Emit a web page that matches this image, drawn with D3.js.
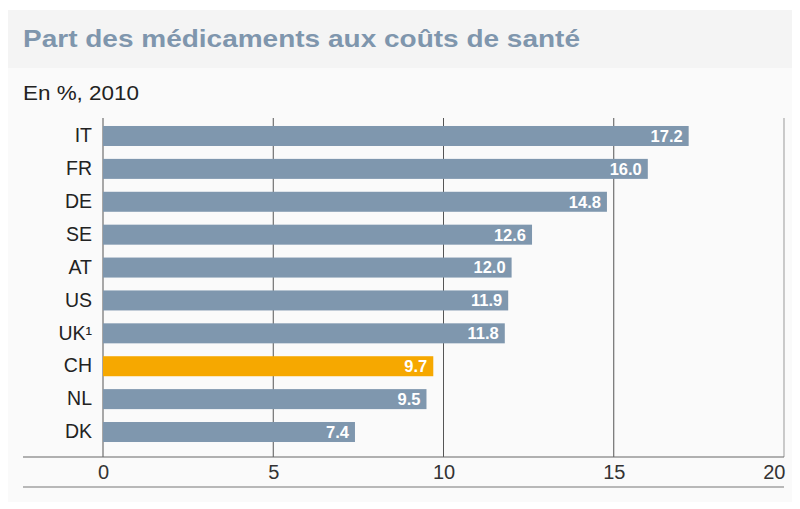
<!DOCTYPE html>
<html>
<head>
<meta charset="utf-8">
<script src="https://cdn.jsdelivr.net/npm/d3@7"></script>
<style>
	body { margin: 0; background: #fff; }
	svg { display: block; font-family: 'Liberation Sans', Arial, sans-serif; }
</style>
</head>
<body>
<svg id="svg" width="800" height="509"></svg>
<script>
const countries = ['IT', 'FR', 'DE', 'SE', 'AT', 'US', 'UK¹', 'CH', 'NL', 'DK'];
const shares = [17.2, 16.0, 14.8, 12.6, 12.0, 11.9, 11.8, 9.7, 9.5, 7.4];
const xTicks = [0, 5, 10, 15, 20];
const highlight = 'CH';

const data = countries.map((c, i) => ({ name: c, value: shares[i] }));

const margin = { top: 118, left: 103, right: 16, baseline: 457 };
const svg = d3.select('#svg');

// background card + title band
svg.append('rect').attr('x', 8).attr('y', 10).attr('width', 784).attr('height', 492).attr('fill', '#fafafa');
svg.append('rect').attr('x', 8).attr('y', 10).attr('width', 784).attr('height', 58).attr('fill', '#f4f4f4');

svg.append('text')
	.attr('x', 23).attr('y', 47)
	.attr('font-size', 24).attr('font-weight', 'bold')
	.attr('fill', '#7f96ad')
	.attr('textLength', 557).attr('lengthAdjust', 'spacingAndGlyphs')
	.text('Part des médicaments aux coûts de santé');

svg.append('text')
	.attr('x', 23).attr('y', 100)
	.attr('font-size', 20).attr('fill', '#222')
	.attr('textLength', 116).attr('lengthAdjust', 'spacingAndGlyphs')
	.text('En %, 2010');

// scales
const xscale = d3.scaleLinear().domain([0, 20]).range([103, 784]);
const yscale = d3.scaleBand()
	.domain(countries)
	.range([118, 450])
	.paddingInner(0.392)
	.paddingOuter(0.243);

// grid lines
svg.append('g')
	.selectAll('line')
	.data(xTicks)
	.enter()
	.append('line')
	.attr('x1', (d) => xscale(d)).attr('x2', (d) => xscale(d))
	.attr('y1', margin.top).attr('y2', margin.baseline)
	.attr('stroke', (d) => (d === 20 ? '#999' : '#555'))
	.attr('stroke-width', 1);

// bars
const barGroup = svg.append('g');
barGroup.selectAll('rect')
	.data(data)
	.enter()
	.append('rect')
	.attr('x', xscale(0))
	.attr('y', (d) => yscale(d.name))
	.attr('width', (d) => xscale(d.value) - xscale(0))
	.attr('height', yscale.bandwidth())
	.attr('fill', (d) => (d.name === highlight ? '#f6a800' : '#7f97ae'));

barGroup.selectAll('text')
	.data(data)
	.enter()
	.append('text')
	.attr('x', (d) => xscale(d.value) - 6)
	.attr('y', (d) => yscale(d.name) + yscale.bandwidth() / 2)
	.attr('dy', '0.36em')
	.attr('text-anchor', 'end')
	.attr('font-size', 16.5).attr('font-weight', 'bold')
	.attr('fill', '#fff')
	.text((d) => d.value.toFixed(1));

// category labels
const leftAxis = d3.axisLeft(yscale).tickSize(0).tickPadding(11);
svg.append('g')
	.attr('transform', `translate(${xscale(0)}, 0)`)
	.call(leftAxis)
	.call((g) => g.select('.domain').remove())
	.selectAll('text')
	.attr('font-size', 19.5).attr('font-family', "'Liberation Sans', Arial, sans-serif")
	.attr('fill', '#222');

// baseline and x axis
svg.append('line')
	.attr('x1', 23).attr('x2', 784)
	.attr('y1', margin.baseline).attr('y2', margin.baseline)
	.attr('stroke', '#666');

const bottomAxis = d3.axisBottom(xscale).tickValues(xTicks).tickSize(0).tickPadding(8);
svg.append('g')
	.attr('transform', `translate(0, ${margin.baseline})`)
	.call(bottomAxis)
	.call((g) => g.select('.domain').remove())
	.selectAll('text')
	.attr('font-size', 20).attr('font-family', "'Liberation Sans', Arial, sans-serif")
	.attr('fill', '#333')
	.attr('text-anchor', (d) => (d === 20 ? 'end' : 'middle'))
	.attr('dx', (d) => (d === 20 ? 1 : 0));

svg.append('line')
	.attr('x1', 23).attr('x2', 784)
	.attr('y1', 487).attr('y2', 487)
	.attr('stroke', '#777');
</script>
</body>
</html>
